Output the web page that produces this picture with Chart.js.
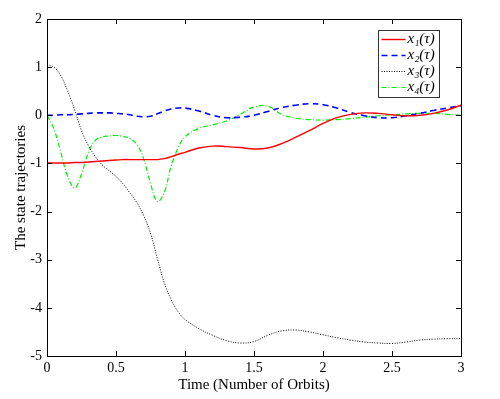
<!DOCTYPE html>
<html>
<head>
<meta charset="utf-8">
<script src="https://cdn.jsdelivr.net/npm/chart.js@4/dist/chart.umd.min.js"></script>
<style>
  html, body { margin: 0; padding: 0; background: #fff; }
  #wrap { width: 500px; height: 399px; }
</style>
</head>
<body>
<div id="wrap"><canvas id="chart"></canvas></div>
<script>
"use strict";

// time in orbits (finer sampling over the first orbit where things move fast)
const TIME = [
  0, 0.05, 0.1, 0.15, 0.2, 0.25, 0.3, 0.35, 0.4, 0.45, 0.5,
  0.55, 0.6, 0.65, 0.7, 0.75, 0.8, 0.85, 0.9, 0.95, 1.0,
  1.1, 1.2, 1.3, 1.4, 1.5, 1.6, 1.7, 1.8, 1.9, 2.0,
  2.1, 2.2, 2.3, 2.4, 2.5, 2.6, 2.7, 2.8, 2.9, 3.0,
];

const X1 = [
  -0.99, -0.99, -0.99, -0.99, -0.98, -0.98, -0.97, -0.96, -0.95, -0.94, -0.93,
  -0.92, -0.92, -0.92, -0.92, -0.92, -0.92, -0.90, -0.86, -0.81, -0.77,
  -0.68, -0.64, -0.65, -0.67, -0.70, -0.68, -0.59, -0.46, -0.32, -0.17,
  -0.05, 0.02, 0.05, 0.04, 0.01, -0.01, 0.0, 0.04, 0.11, 0.21,
];

const X2 = [
  0.0, 0.0, 0.01, 0.01, 0.02, 0.03, 0.04, 0.05, 0.05, 0.05, 0.04,
  0.03, 0.01, -0.02, -0.03, -0.02, 0.03, 0.09, 0.13, 0.15, 0.15,
  0.09, 0.0, -0.05, -0.04, 0.0, 0.08, 0.16, 0.21, 0.24, 0.22,
  0.15, 0.06, -0.01, -0.05, -0.05, -0.01, 0.04, 0.10, 0.15, 0.20,
];

const X3 = [
  1.05, 1.0, 0.82, 0.50, 0.12, -0.32, -0.63, -0.86, -1.03, -1.15, -1.27,
  -1.42, -1.61, -1.81, -2.08, -2.45, -2.98, -3.48, -3.83, -4.08, -4.24,
  -4.43, -4.57, -4.68, -4.73, -4.70, -4.57, -4.48, -4.46, -4.50, -4.56,
  -4.62, -4.67, -4.71, -4.73, -4.74, -4.71, -4.67, -4.65, -4.64, -4.64,
];

const X4 = [
  0.0, -0.28, -0.77, -1.27, -1.51, -1.22, -0.77, -0.52, -0.45, -0.43, -0.42,
  -0.44, -0.48, -0.60, -0.90, -1.42, -1.79, -1.60, -1.05, -0.68, -0.45,
  -0.27, -0.20, -0.12, 0.02, 0.17, 0.19, 0.02, -0.06, -0.09, -0.10,
  -0.09, -0.07, -0.04, -0.01, 0.01, 0.03, 0.04, 0.04, 0.02, 0.0,
];

const LABELS = ["x\u2081(\u03c4)", "x\u2082(\u03c4)", "x\u2083(\u03c4)", "x\u2084(\u03c4)"];
const X_TITLE = "Time (Number of Orbits)";
const Y_TITLE = "The state trajectories";

const SERIF = "'Liberation Serif', 'DejaVu Serif', serif";

const pts = (ys) => ys.map((y, i) => ({ x: TIME[i], y }));

function series(label, ys, color, width, dash) {
  return {
    label,
    data: pts(ys),
    borderColor: color,
    backgroundColor: color,
    borderWidth: width,
    borderDash: dash,
    pointRadius: 0,
    fill: false,
    tension: 0.4,
  };
}

// MATLAB-style boxed axes with inward ticks, plus the boxed legend
const framePlugin = {
  id: "frame",
  afterDraw(chart) {
    const { ctx, chartArea: a, scales } = chart;
    const tl = 5;
    ctx.save();
    ctx.strokeStyle = "#000";
    ctx.lineWidth = 1;
    ctx.setLineDash([]);
    ctx.beginPath();
    scales.x.ticks.forEach((t) => {
      const x = Math.round(scales.x.getPixelForValue(t.value)) + 0.5;
      ctx.moveTo(x, a.bottom); ctx.lineTo(x, a.bottom - tl);
      ctx.moveTo(x, a.top); ctx.lineTo(x, a.top + tl);
    });
    scales.y.ticks.forEach((t) => {
      const y = Math.round(scales.y.getPixelForValue(t.value)) + 0.5;
      ctx.moveTo(a.left, y); ctx.lineTo(a.left + tl, y);
      ctx.moveTo(a.right, y); ctx.lineTo(a.right - tl, y);
    });
    ctx.stroke();
    ctx.strokeRect(Math.round(a.left) + 0.5, Math.round(a.top) + 0.5,
      Math.round(a.right - a.left), Math.round(a.bottom - a.top));

    // legend
    const bx = 378.5, by = 30.5, bw = 61, bh = 67;
    ctx.fillStyle = "#fff";
    ctx.fillRect(bx, by, bw, bh);
    ctx.strokeStyle = "#333";
    ctx.strokeRect(bx, by, bw, bh);
    ctx.font = "italic 15px " + SERIF;
    ctx.textBaseline = "middle";
    chart.data.datasets.forEach((ds, i) => {
      const y = by + 9 + i * 16;
      ctx.strokeStyle = ds.borderColor;
      ctx.lineWidth = ds.borderWidth;
      ctx.setLineDash(ds.borderDash || []);
      ctx.beginPath();
      ctx.moveTo(bx + 3, y);
      ctx.lineTo(bx + 27, y);
      ctx.stroke();
      ctx.setLineDash([]);
      ctx.fillStyle = "#000";
      ctx.fillText(ds.label, bx + 29, y);
    });
    ctx.restore();
  },
};

new Chart(document.getElementById("chart"), {
  type: "line",
  data: {
    datasets: [
      series(LABELS[0], X1, "#ff0000", 1.4, []),
      series(LABELS[1], X2, "#0000ff", 1.6, [6, 4]),
      series(LABELS[2], X3, "#000000", 1, [1, 1.5]),
      series(LABELS[3], X4, "#00ee00", 1.2, [5, 2, 1, 2]),
    ],
  },
  options: {
    responsive: true,
    maintainAspectRatio: false,
    animation: false,
    layout: { padding: { top: 19, right: 39, left: 0, bottom: 0 } },
    plugins: { legend: { display: false }, tooltip: { enabled: false } },
    scales: {
      x: {
        type: "linear",
        min: 0, max: 3,
        afterFit: (s) => { s.height = 43; },
        grid: { display: false, drawTicks: false },
        border: { display: false },
        ticks: { stepSize: 0.5, padding: 4, color: "#000", font: { family: SERIF, size: 14 },
          callback: (v) => String(v) },
        title: { display: true, text: X_TITLE, color: "#000",
          font: { family: SERIF, size: 15 }, padding: { top: 0, bottom: 5 } },
      },
      y: {
        min: -5, max: 2,
        afterFit: (s) => { s.width = 47; },
        grid: { display: false, drawTicks: false },
        border: { display: false },
        ticks: { stepSize: 1, padding: 5, color: "#000", font: { family: SERIF, size: 14 },
          callback: (v) => String(v) },
        title: { display: true, text: Y_TITLE, color: "#000",
          font: { family: SERIF, size: 15 }, padding: { top: 12, bottom: 0 } },
      },
    },
  },
  plugins: [framePlugin],
});
</script>
</body>
</html>
